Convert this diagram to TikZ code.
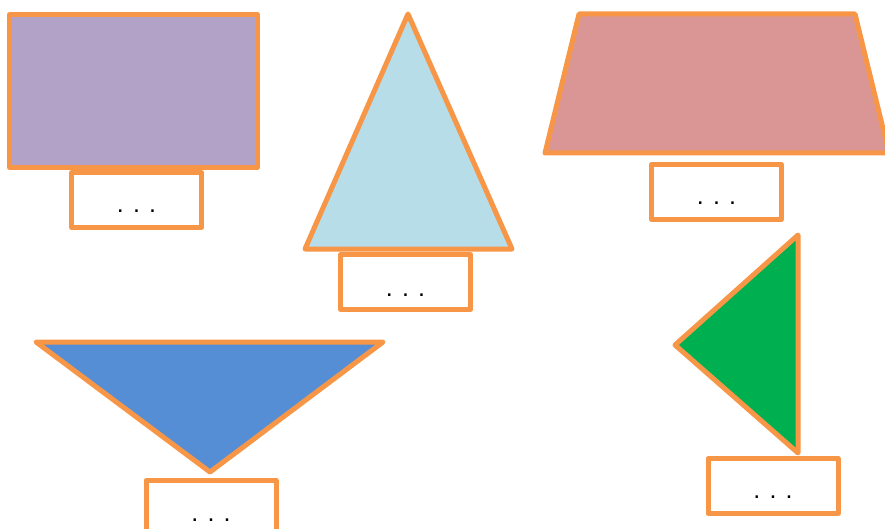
\documentclass[tikz,border=0pt]{standalone}
\usepackage{fontspec}
\setmainfont{Liberation Sans}
\definecolor{edge}{HTML}{F79646}
\definecolor{purp}{HTML}{B2A2C7}
\definecolor{lblue}{HTML}{B7DDE8}
\definecolor{rose}{HTML}{D99694}
\definecolor{mblue}{HTML}{558ED5}
\definecolor{grn}{HTML}{00B050}
\begin{document}
\begin{tikzpicture}[x=1pt,y=-1pt,
  shapeline/.style={draw=edge,line width=5pt,line join=round},
  lbl/.style={draw=edge,fill=white,line width=5pt,line join=round,rectangle,minimum width=130pt,minimum height=55pt,inner sep=0pt},
  dots/.style={font=\fontsize{25}{25}\selectfont,inner sep=0pt,anchor=base}]
\useasboundingbox (0,0) rectangle (885,529);
% shapes
\path[shapeline,fill=purp] (9.5,14.5) rectangle (257.5,167.5);
\path[shapeline,fill=lblue] (408,14) -- (512,249) -- (305,249) -- cycle;
\path[shapeline,fill=rose] (579,14) -- (855,14) -- (889,153) -- (545,153) -- cycle;
\path[shapeline,fill=mblue] (36,342) -- (383,342) -- (210,472) -- cycle;
\path[shapeline,fill=grn] (798,235) -- (798,453) -- (675,345) -- cycle;
% labels
\node[lbl] (l1) at (136.5,200) {};
\node[lbl] (l2) at (405.5,282) {};
\node[lbl] (l3) at (716.5,192) {};
\node[lbl] (l4) at (211,508) {};
\node[lbl] (l5) at (773,486) {};
\node[dots] (t1) at (136.5,213) {. . .};
\node[dots] (t2) at (405.5,296) {. . .};
\node[dots] (t3) at (716.5,205) {. . .};
\node[dots] (t4) at (211,521) {. . .};
\node[dots] (t5) at (773,498) {. . .};
\end{tikzpicture}
\end{document}
